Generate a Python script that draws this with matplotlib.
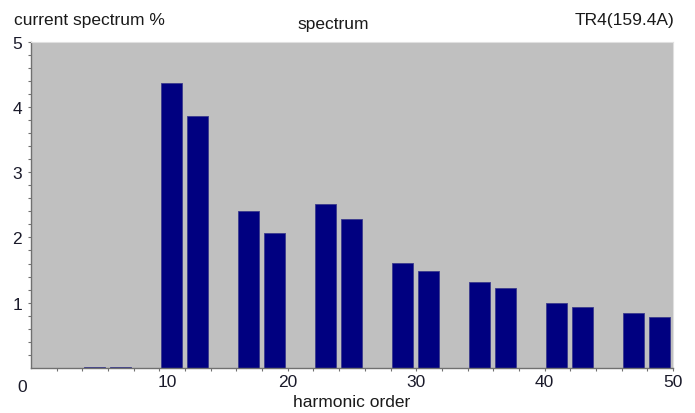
import matplotlib
matplotlib.use("Agg")
import matplotlib.pyplot as plt
import matplotlib.transforms as mtransforms
import numpy as np

plt.rcParams["font.family"] = ["Liberation Sans", "DejaVu Sans"]

# harmonic orders and current spectrum values (%)
ordenes = [5, 7, 11, 13, 17, 19, 23, 25, 29, 31, 35, 37, 41, 43, 47, 49]
valores = [0.02, 0.02, 4.36, 3.86, 2.41, 2.07, 2.51, 2.28,
           1.61, 1.48, 1.32, 1.23, 0.99, 0.94, 0.84, 0.78]
etiquetas_x = ["10", "20", "30", "40", "50"]
etiquetas_y = ["1", "2", "3", "4", "5"]

fig = plt.figure(figsize=(6.95, 4.14), dpi=100)
ax = fig.add_axes([0.0446, 0.1087, 0.9237, 0.7886])
ax.set_facecolor("#c0c0c0")

ax.bar(np.array(ordenes) - 0.05, valores, width=1.62, color="#000080",
       edgecolor="#3a3a8c", linewidth=0.6, zorder=2)

ax.set_xlim(0, 50)
ax.set_ylim(0, 5)
ax.set_xticks([10, 20, 30, 40, 50])
ax.set_xticklabels(etiquetas_x)
ax.set_xticks(np.arange(2, 50, 2), minor=True)
ax.set_yticks([1, 2, 3, 4, 5])
ax.set_yticklabels(etiquetas_y)
ax.set_yticks(np.arange(0.2, 5, 0.2), minor=True)

ax.tick_params(which="both", direction="out", length=2.5, width=0.8,
               color="#707070", labelsize=12.5, labelcolor="#1a1a2a")
ax.tick_params(axis="x", pad=2)
ax.tick_params(axis="y", pad=4)

# the "10" label sits to the right of its tick
lbl10 = ax.get_xticklabels()[0]
lbl10.set_transform(lbl10.get_transform() +
                    mtransforms.ScaledTranslation(8 / 100, 0, fig.dpi_scale_trans))

for lado in ["left", "bottom"]:
    ax.spines[lado].set_color("#707070")
    ax.spines[lado].set_linewidth(1.0)
for lado in ["top", "right"]:
    ax.spines[lado].set_color("#e0e0e0")
    ax.spines[lado].set_linewidth(0.8)

fig.text(22 / 695, 1 - 388 / 414, "0", fontsize=12.5, color="#1a1a2a",
         ha="center", va="center")

fig.text(14 / 695, 1 - 20 / 414, "current spectrum %", fontsize=12.5,
         color="#1a1a1a", ha="left", va="center")
fig.text(333 / 695, 1 - 24 / 414, "spectrum", fontsize=12.5,
         color="#1a1a1a", ha="center", va="center")
fig.text(674 / 695, 1 - 20 / 414, "TR4(159.4A)", fontsize=12.5,
         color="#1a1a1a", ha="right", va="center")
fig.text(352 / 695, 1 - 403 / 414, "harmonic order", fontsize=12.5,
         color="#1a1a1a", ha="center", va="center")

fig.savefig("out.png", dpi=100)
